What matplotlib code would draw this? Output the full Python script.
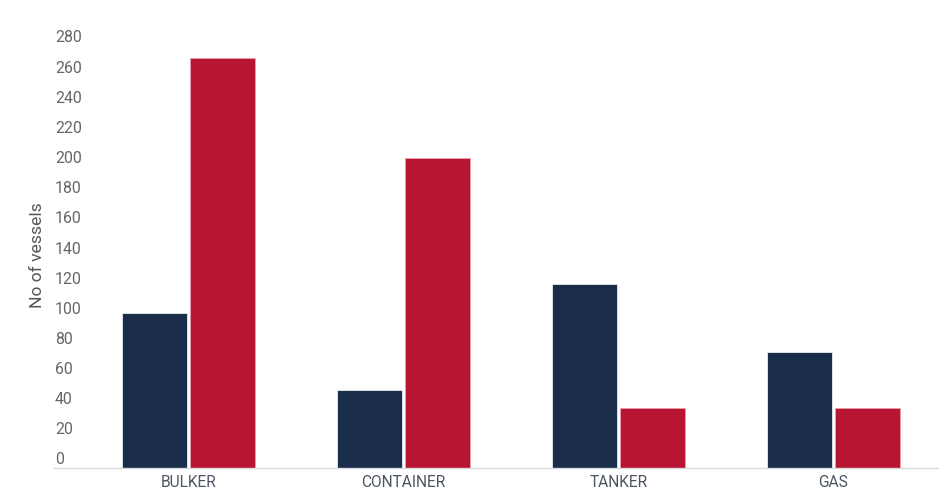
import matplotlib.pyplot as plt
import matplotlib.transforms as mtransforms
import numpy as np

plt.rcParams['font.family'] = ['Roboto', 'DejaVu Sans']

categories = ['BULKER', 'CONTAINER', 'TANKER', 'GAS']
series_a = [103, 52, 122, 77]
series_b = [272, 206, 40, 40]
y_ticks = list(range(0, 281, 20))

navy = '#192d4b'
red = '#b81533'

fig = plt.figure(figsize=(9.39, 5.04), dpi=100)
ax = fig.add_axes([54 / 939, 36 / 504, 885 / 939, 422 / 504])

x = np.arange(len(categories))
w = 0.302
ax.bar(x - 0.158, series_a, width=w, color=navy, edgecolor='#e8eaf0', linewidth=0.6, clip_on=False)
ax.bar(x + 0.158, series_b, width=w, color=red, edgecolor='#e8a0ac', linewidth=0.6, clip_on=False)

ax.set_xlim(-0.6256, 3.4907)
ax.set_ylim(0, 280)

for s in ['top', 'right', 'left']:
    ax.spines[s].set_visible(False)
ax.spines['bottom'].set_color('#d8d9de')
ax.spines['bottom'].set_linewidth(1)

ax.set_yticks([])
ax.set_xticks(x)
ax.set_xticklabels(categories, fontsize=11.2, color='#4d5562')
ax.tick_params(axis='x', length=0, pad=5)

trans = mtransforms.blended_transform_factory(ax.transAxes, ax.transData)
for v in y_ticks:
    ax.annotate(str(v), xy=(0, v), xycoords=trans, xytext=(1, 8), textcoords='offset pixels',
                ha='left', va='center', fontsize=11.4, color='#666666')

fig.text(37 / 939, 1 - 255 / 504, 'No of vessels', rotation=90, ha='center', va='center',
         fontsize=12.6, color='#555555')

fig.savefig('out.png', dpi=100)
